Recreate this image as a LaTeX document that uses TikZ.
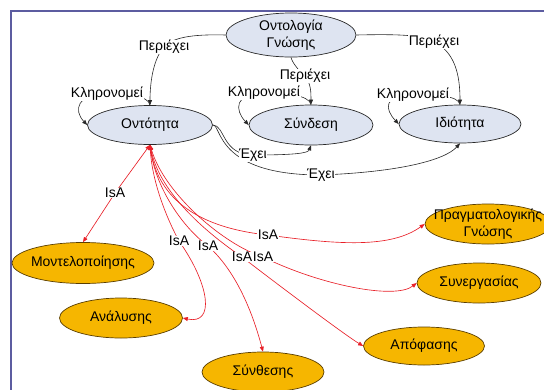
\documentclass[tikz,border=0pt]{standalone}
\usepackage{fontspec}
\setmainfont{Liberation Sans}
\usetikzlibrary{arrows.meta,shapes.geometric}
\pgfdeclarelayer{edges}
\pgfsetlayers{edges,main}

\definecolor{frameblue}{RGB}{92,92,160}
\definecolor{classfill}{RGB}{222,228,241}
\definecolor{instfill}{RGB}{246,182,0}
\definecolor{instline}{RGB}{90,62,0}
\definecolor{isared}{RGB}{232,32,40}
\definecolor{relgray}{RGB}{40,40,40}

\tikzset{
  every node/.style={font=\fontsize{14}{17}\selectfont},
  cls/.style 2 args={ellipse, draw=relgray, line width=0.7pt, fill=classfill,
    minimum width=#1, minimum height=#2, inner sep=0pt},
  inst/.style 2 args={ellipse, draw=instline, line width=0.7pt, fill=instfill,
    minimum width=#1, minimum height=#2, inner sep=0pt},
  lbl/.style={fill=white, inner sep=0.5pt},
  rel/.style={draw=relgray, line width=0.6pt, ->},
  isa/.style={draw=isared, line width=0.65pt, <->},
  >={Triangle[length=5pt,width=4pt]},
}

\begin{document}
\begin{tikzpicture}[x=1pt,y=-1pt]
\useasboundingbox (0,0) rectangle (544,389);

% frame along the left and top
\draw[frameblue, line width=2pt] (11,392) -- (11,11) -- (547,11);

% concepts
\node[cls={130pt}{44pt}, label={[align=center]center:Οντολογία\\Γνώσης}] (og) at (291,35) {};
\node[cls={125pt}{39pt}, label={center:Οντότητα}] (ont) at (150,125) {};
\node[cls={124pt}{40pt}, label={center:Σύνδεση}] (syn) at (311,125) {};
\node[cls={122pt}{38pt}, label={center:Ιδιότητα}] (idi) at (460,124) {};

% specialisations
\node[inst={142pt}{41pt}, label={center:Μοντελοποίησης}] (mod) at (83,263) {};
\node[inst={123pt}{40pt}, label={center:Ανάλυσης}] (ana) at (121,318) {};
\node[inst={122pt}{40pt}, label={center:Σύνθεσης}] (synth) at (263,372) {};
\node[inst={121pt}{38pt}, label={center:Απόφασης}] (apo) at (424,346) {};
\node[inst={124pt}{40pt}, label={center:Συνεργασίας}] (syne) at (479,283) {};
\node[inst={126pt}{40pt}, label={[align=center]center:Πραγματολογικής\\Γνώσης}] (prag) at (488,224) {};

% relation labels
\node[lbl] (pOnt) at (164,47) {Περιέχει};
\node[lbl] (pSyn) at (305,76) {Περιέχει};
\node[lbl] (pIdi) at (434,42) {Περιέχει};
\node[lbl] (kOnt) at (107,94) {Κληρονομεί};
\node[lbl] (kSyn) at (264,93) {Κληρονομεί};
\node[lbl] (kIdi) at (413,95) {Κληρονομεί};
\node[lbl] (e1) at (253,155) {Έχει};
\node[lbl] (e2) at (321,175) {Έχει};
\node[lbl] (iMod) at (115,193) {IsA};
\node[lbl] (iAna) at (179,241) {IsA};
\node[lbl] (iSynth) at (208,246) {IsA};
\node[lbl] (iApo) at (242,257) {IsA};
\node[lbl] (iSyne) at (263,257) {IsA};
\node[lbl] (iPrag) at (268,235) {IsA};

\begin{pgfonlayer}{edges}
% containment
\draw[rel] (og.west) .. controls (190,34) and (172,38) .. (pOnt.center)
           .. controls (154,58) and (150,80) .. (ont.north);
\draw[rel] (og.south) .. controls (292,62) and (298,70) .. (pSyn.center)
           .. controls (311,84) and (311,92) .. (syn.north);
\draw[rel] (og.east) .. controls (400,34) and (424,35) .. (pIdi.center)
           .. controls (455,52) and (460,75) .. (idi.north);

% inheritance loops
\foreach \c/\k in {ont/kOnt, syn/kSyn, idi/kIdi}
  \draw[rel] (\c.north) .. controls +(-2,-10) and +(20,0) .. (\k.center)
             .. controls +(-30,0) and +(-14,-15) .. (\c.west);

% has-relations
\draw[rel] (ont.east) .. controls (225,125) and (222,155) .. (e1.center)
           .. controls +(40,0) and +(-3,8) .. (syn.south);
\draw[rel] (ont.east) .. controls (222,125) and (215,175) .. (e2.center)
           .. controls (400,172) and (445,160) .. (idi.south);

% is-a relations
\draw[isa] (ont.south) -- (iMod.center) -- (mod.north);
\draw[isa] (ont.south) .. controls (152,180) and (165,215) .. (iAna.center)
           .. controls (210,285) and (215,325) .. (ana.east);
\draw[isa] (ont.south) .. controls (155,185) and (180,225) .. (iSynth.center)
           .. controls (235,270) and (252,310) .. (synth.north);
\draw[isa] (ont.south) .. controls (160,195) and (210,235) .. (iApo.center)
           .. controls (285,290) and (345,335) .. (apo.west);
\draw[isa] (ont.south) .. controls (165,195) and (225,245) .. (iSyne.center)
           .. controls (320,285) and (395,300) .. (syne.west);
\draw[isa] (ont.south) .. controls (158,200) and (200,228) .. (iPrag.center)
           .. controls (340,245) and (391,248) .. (prag.west);
\end{pgfonlayer}
\end{tikzpicture}
\end{document}
